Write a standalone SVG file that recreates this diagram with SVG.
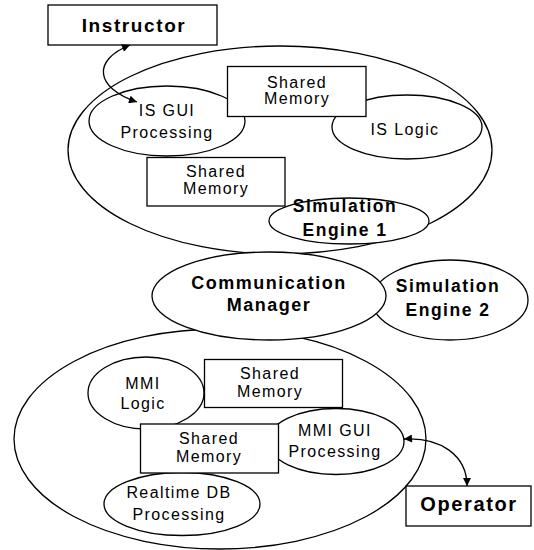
<svg xmlns="http://www.w3.org/2000/svg" width="534" height="550" viewBox="0 0 534 550">
<style>
.s{fill:#fff;stroke:#000;stroke-width:1.3}
.t{font-family:"Liberation Sans",Arial,sans-serif;font-size:16px;letter-spacing:1.4px;text-anchor:middle;fill:#000}
.b{font-family:"Liberation Sans",Arial,sans-serif;font-size:18px;font-weight:bold;letter-spacing:1.5px;text-anchor:middle;fill:#000}
.c{fill:none;stroke:#000;stroke-width:1.3}
</style>
<defs>
<marker id="ah" viewBox="0 0 10 10" refX="10" refY="5" markerUnits="userSpaceOnUse" markerWidth="12" markerHeight="8" orient="auto-start-reverse">
<path d="M0,0 L10,5 L0,10 z" fill="#000"/>
</marker>
</defs>
<rect width="534" height="550" fill="#fff"/>
<g id="is-system"><ellipse class="s" cx="280" cy="150" rx="212" ry="104"/></g>
<g id="mmi-system"><ellipse class="s" cx="220" cy="439" rx="206" ry="110"/></g>
<g id="sim-engine-2"><ellipse class="s" cx="450" cy="300" rx="78" ry="40"/>
<text class="b" x="448" y="292" style="font-size:17.5px">Simulation</text><text class="b" x="448" y="316" style="font-size:17.5px">Engine 2</text></g>
<g id="comm-manager"><ellipse class="s" cx="269" cy="296" rx="117" ry="44"/>
<text class="b" x="269" y="289">Communication</text><text class="b" x="269" y="311">Manager</text></g>
<g id="is-gui"><ellipse class="s" cx="167" cy="121" rx="78" ry="35"/>
<text class="t" x="167" y="116">IS GUI</text><text class="t" x="167" y="138">Processing</text></g>
<g id="is-logic"><ellipse class="s" cx="407" cy="127" rx="75" ry="32"/>
<text class="t" x="405" y="135">IS Logic</text></g>
<g id="sim-engine-1"><ellipse class="s" cx="349" cy="221" rx="80" ry="23"/>
<text class="b" x="345" y="212" style="font-size:17.5px">Simulation</text><text class="b" x="345" y="236" style="font-size:17.5px">Engine 1</text></g>
<g id="shared-memory-1"><rect class="s" x="227.5" y="66.5" width="138.5" height="50"/>
<text class="t" x="297" y="88">Shared</text><text class="t" x="297" y="104">Memory</text></g>
<g id="shared-memory-2"><rect class="s" x="147" y="157.5" width="138" height="48.5"/>
<text class="t" x="216" y="177">Shared</text><text class="t" x="216" y="194">Memory</text></g>
<g id="mmi-logic"><ellipse class="s" cx="146" cy="393" rx="58" ry="36"/>
<text class="t" x="143" y="389">MMI</text><text class="t" x="143" y="409">Logic</text></g>
<g id="mmi-gui"><ellipse class="s" cx="336" cy="441.5" rx="68" ry="33"/>
<text class="t" x="335" y="436">MMI GUI</text><text class="t" x="335" y="457">Processing</text></g>
<g id="realtime-db"><ellipse class="s" cx="182" cy="504" rx="78" ry="31.5"/>
<text class="t" x="179" y="498">Realtime DB</text><text class="t" x="179" y="520">Processing</text></g>
<g id="shared-memory-3"><rect class="s" x="204.5" y="359.5" width="138" height="48"/>
<text class="t" x="270" y="379">Shared</text><text class="t" x="270" y="397">Memory</text></g>
<g id="shared-memory-4"><rect class="s" x="140.5" y="424" width="138" height="49"/>
<text class="t" x="209" y="444">Shared</text><text class="t" x="209" y="462">Memory</text></g>
<g id="instructor"><rect class="s" x="48" y="5" width="169" height="40"/>
<text class="b" x="134" y="32" style="font-size:19px;letter-spacing:1.6px">Instructor</text></g>
<g id="operator"><rect class="s" x="406" y="486" width="125" height="40"/>
<text class="b" x="469" y="511" style="font-size:20px;letter-spacing:1.6px">Operator</text></g>
<g id="connectors">
<path class="c" d="M137,102 C95,88 92,60 130,45" marker-start="url(#ah)" marker-end="url(#ah)"/>
<path class="c" d="M404,439 C440,437 467,455 467,486" marker-start="url(#ah)" marker-end="url(#ah)"/>
</g>
</svg>
